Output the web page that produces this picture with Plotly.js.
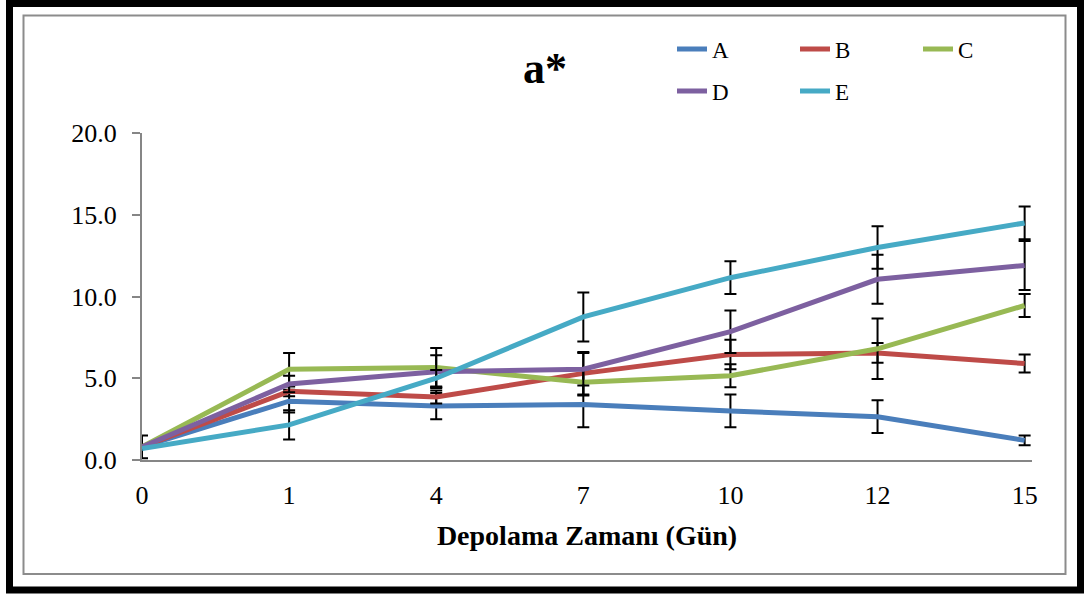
<!DOCTYPE html>
<html>
<head>
<meta charset="utf-8">
<script src="https://cdn.plot.ly/plotly-3.0.1.min.js"></script>
<style>
  html, body { margin: 0; padding: 0; background: #ffffff; }
  #chart { width: 1084px; height: 594px; }
</style>
</head>
<body>
<div id="chart"></div>
<script>
// ---- data ----
const days = ['0', '1', '4', '7', '10', '12', '15'];
const seriesNames = ['A', 'B', 'C', 'D', 'E'];
const valA = [0.8, 3.6, 3.3, 3.4, 3.0, 2.65, 1.2];
const errA = [0.7, 0.7, 0.8, 1.4, 1.0, 1.0, 0.3];
const valB = [0.8, 4.2, 3.85, 5.3, 6.45, 6.55, 5.9];
const errB = [0, 0.3, 0.4, 1.3, 0.9, 0.6, 0.55];
const valC = [0.8, 5.55, 5.65, 4.75, 5.15, 6.8, 9.45];
const errC = [0, 1.0, 1.2, 0.8, 0.7, 1.85, 0.7];
const valD = [0.8, 4.65, 5.4, 5.55, 7.85, 11.05, 11.9];
const errD = [0, 0.5, 1.0, 1.0, 1.3, 1.5, 1.5];
const valE = [0.7, 2.15, 5.0, 8.75, 11.15, 13.0, 14.5];
const errE = [0, 0.9, 0.5, 1.5, 1.0, 1.3, 1.0];
const yTicks = [0, 5, 10, 15, 20];

const colors = ['#4A7EBB', '#BE4B48', '#98B954', '#7D60A0', '#46AAC5'];
const values = [valA, valB, valC, valD, valE];
const errors = [errA, errB, errC, errD, errE];
const legendOf = ['legend', 'legend', 'legend', 'legend2', 'legend2'];

const xIdx = days.map((d, i) => i);
const FONT = 'Liberation Serif, Times New Roman, serif';

const traces = seriesNames.map((name, k) => ({
  type: 'scatter',
  mode: 'lines',
  name: name,
  x: xIdx,
  y: values[k],
  line: { color: colors[k], width: 5 },
  error_y: { type: 'data', array: errors[k], visible: true, color: '#000000', thickness: 2, width: 6 },
  legend: legendOf[k],
  cliponaxis: true
}));

// pixel -> paper helpers for decoration placement
const L = 142, R = 1032, T = 133, B = 460;
const xp = px => (px - L) / (R - L);
const yp = py => (B - py) / (B - T);

const layout = {
  width: 1084,
  height: 594,
  margin: { l: L, r: 1084 - R, t: T, b: 594 - B, pad: 0 },
  paper_bgcolor: '#ffffff',
  plot_bgcolor: '#ffffff',
  font: { family: FONT, size: 24, color: '#000000' },
  title: {
    text: 'a*',
    font: { family: FONT, size: 44, color: '#000000', weight: 'bold' },
    xref: 'container', x: 545 / 1084, xanchor: 'center',
    yref: 'container', y: 1 - 68 / 594, yanchor: 'middle'
  },
  xaxis: {
    range: [0, 6.05],
    tickmode: 'array',
    tickvals: xIdx,
    ticktext: days,
    showgrid: false,
    zeroline: false,
    showline: true,
    linecolor: '#868686',
    linewidth: 2,
    ticks: '',
    ticklabelstandoff: 11,
    tickfont: { family: FONT, size: 26, color: '#000000' },
    title: {
      text: 'Depolama Zamanı (Gün)',
      font: { family: FONT, size: 28, color: '#000000', weight: 'bold' },
      standoff: 16
    },
    fixedrange: true
  },
  yaxis: {
    range: [0, 20],
    tickmode: 'array',
    tickvals: yTicks,
    tickformat: '.1f',
    showgrid: false,
    zeroline: false,
    showline: true,
    linecolor: '#868686',
    linewidth: 2,
    ticks: 'outside',
    ticklen: 8,
    tickwidth: 2,
    tickcolor: '#868686',
    ticklabelstandoff: 10,
    tickfont: { family: FONT, size: 26, color: '#000000' },
    fixedrange: true
  },
  legend: {
    orientation: 'h',
    x: xp(672), xanchor: 'left',
    y: yp(49), yanchor: 'middle',
    entrywidth: 78, entrywidthmode: 'pixels',
    font: { family: FONT, size: 23, color: '#000000' },
    bgcolor: 'rgba(0,0,0,0)',
    traceorder: 'normal'
  },
  legend2: {
    orientation: 'h',
    x: xp(672), xanchor: 'left',
    y: yp(91), yanchor: 'middle',
    entrywidth: 78, entrywidthmode: 'pixels',
    font: { family: FONT, size: 23, color: '#000000' },
    bgcolor: 'rgba(0,0,0,0)',
    traceorder: 'normal'
  },
  shapes: [
    { type: 'rect', xref: 'paper', yref: 'paper', layer: 'above',
      x0: xp(9.5), x1: xp(1080.5), y0: yp(3.5), y1: yp(590),
      line: { color: '#000000', width: 7 }, fillcolor: 'rgba(0,0,0,0)' },
    { type: 'rect', xref: 'paper', yref: 'paper', layer: 'below',
      x0: xp(23.5), x1: xp(1065.5), y0: yp(15.5), y1: yp(574),
      line: { color: '#8c8c8c', width: 2 }, fillcolor: 'rgba(0,0,0,0)' }
  ],
  showlegend: true
};

Plotly.newPlot('chart', traces, layout, { displayModeBar: false, staticPlot: true });
</script>
</body>
</html>
